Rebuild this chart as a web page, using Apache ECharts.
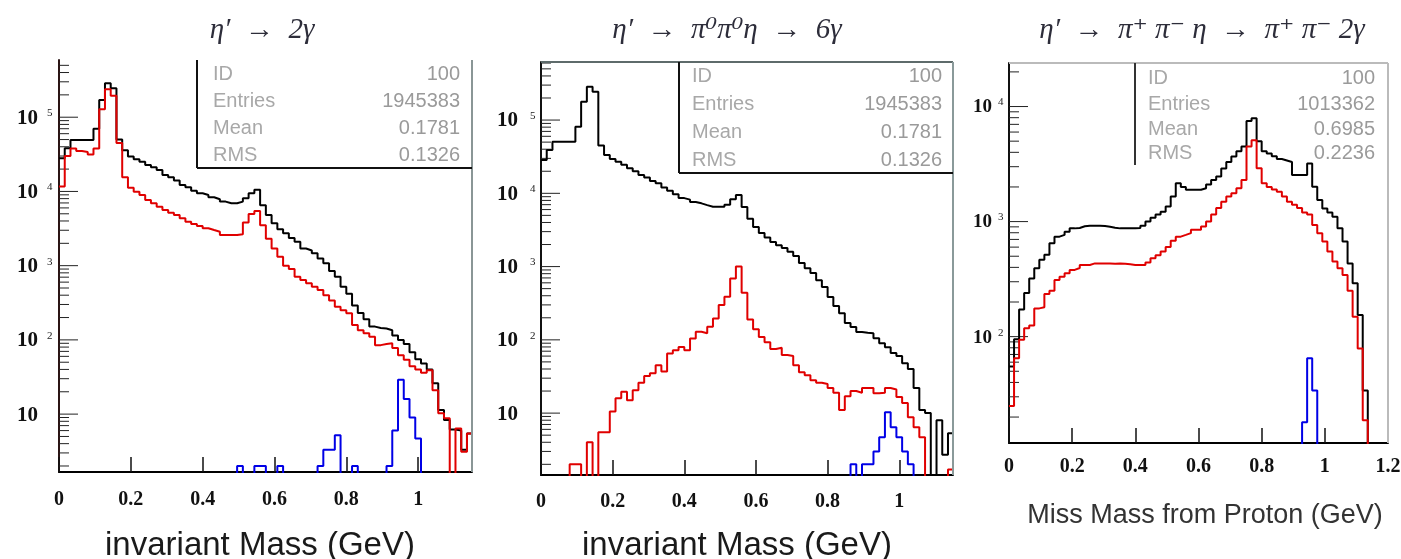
<!DOCTYPE html>
<html>
<head>
<meta charset="utf-8">
<title>η′ decay spectra</title>
<script src="https://cdn.jsdelivr.net/npm/echarts@6.0.0/dist/echarts.min.js"></script>
<style>
html, body { margin: 0; padding: 0; background: #ffffff; }
#chart { width: 1401px; height: 559px; }
</style>
</head>
<body>
<div id="chart"></div>
<script>
// Histogram bin width in GeV; every array below holds bin contents starting at 0 GeV.
const BIN_WIDTH = 0.016;

// η′ → 2γ : two-photon invariant mass
const P1_BLACK = [
  28000, 38200, 49400, 49400, 49400, 49400, 70000, 171000, 287000, 246000,
  50000, 36000, 29500, 27200, 25100, 22700, 21200, 19500, 16700, 15500,
  14000, 12200, 11400, 10200, 9460, 8970, 8350, 7850, 7300, 6920,
  6920, 7300, 8100, 9460, 10500, 6500, 4800, 3720, 3100, 2730,
  2350, 2100, 1700, 1600, 1470, 1250, 1080, 850, 711, 520,
  420, 290, 230, 190, 151, 145, 142, 135, 115, 100,
  88, 68, 55, 48, 40, 26, 11.4, 8.3, 6.2, 6,
  3.3, 5.5
];
const P1_RED = [
  11700, 30000, 38000, 35000, 34000, 31500, 38000, 128000, 239000, 194000,
  45000, 15500, 11200, 9900, 8970, 7680, 6920, 6240, 5630, 5170,
  4820, 4360, 3920, 3650, 3430, 3190, 3020, 2870, 2590, 2580,
  2580, 2650, 3820, 4980, 5460, 3500, 2300, 1700, 1320, 1000,
  900, 711, 640, 580, 520, 470, 400, 340, 280, 250,
  228, 159, 135, 123, 110, 85, 88, 90, 78, 62,
  54, 44, 40, 36, 39, 21, 10.3, 8.8, 0, 6.4,
  3.1, 5.5
];
const P1_BLUE = [
  0, 0, 0, 0, 0, 0, 0, 0, 0, 0,
  0, 0, 0, 0, 0, 0, 0, 0, 0, 0,
  0, 0, 0, 0, 0, 0, 0, 0, 0, 0,
  0, 2, 0, 0, 2, 2, 0, 0, 2, 0,
  0, 0, 0, 0, 0, 2, 3.3, 3.3, 5.2, 0,
  0, 2, 0, 0, 0, 0, 0, 2, 6, 29,
  16, 9, 4.7, 0, 0, 0, 0, 0, 0, 0,
  0, 0
];

// η′ → π0π0η → 6γ : six-photon invariant mass
const P2_BLACK = [
  28500, 38900, 50600, 50600, 50600, 50600, 81200, 178000, 285000, 243000,
  45000, 33300, 29500, 27000, 24500, 22000, 20000, 17800, 16500, 14700,
  13700, 12000, 10800, 9700, 8600, 8200, 7600, 7300, 6900, 6560,
  6560, 6560, 7000, 8300, 9460, 6500, 4500, 3470, 2870, 2500,
  2160, 1950, 1790, 1600, 1400, 1120, 950, 815, 650, 525,
  384, 290, 230, 170, 150, 128, 125, 123, 105, 90,
  79, 66, 60, 48, 40, 22, 11, 10, 0, 8,
  2.7, 5.3
];
const P2_RED = [
  0, 0, 0, 0, 0, 2, 2, 0, 4, 0,
  5.5, 5.5, 10.5, 16, 19.5, 15, 20.5, 26, 32, 35,
  45, 37, 65, 72, 80, 72, 104, 129, 123, 151,
  195, 298, 388, 690, 1000, 440, 190, 140, 109, 93,
  75, 78, 62, 60, 45, 36, 33, 28, 26, 25,
  22, 19, 11, 17, 20, 19, 22, 22, 18.7, 19,
  22, 21, 16.6, 13.7, 8.8, 6.4, 4.7, 0, 0, 0,
  0, 1.7
];
const P2_BLUE = [
  0, 0, 0, 0, 0, 0, 0, 0, 0, 0,
  0, 0, 0, 0, 0, 0, 0, 0, 0, 0,
  0, 0, 0, 0, 0, 0, 0, 0, 0, 0,
  0, 0, 0, 0, 0, 0, 0, 0, 0, 0,
  0, 0, 0, 0, 0, 0, 0, 0, 0, 0,
  0, 0, 0, 0, 2, 0, 2, 2, 3, 4.7,
  10.3, 6.4, 4.7, 3, 2, 0, 0, 0, 0, 0,
  0, 0
];

// η′ → π+π−η → π+π−2γ : missing mass recoiling against the proton
const P3_BLACK = [
  55, 95, 172, 240, 320, 393, 465, 514, 647, 740,
  766, 818, 873, 880, 910, 922, 922, 922, 915, 900,
  885, 873, 873, 873, 875, 880, 922, 1000, 1080, 1150,
  1220, 1350, 1650, 2150, 2000, 1890, 1890, 1890, 1950, 2100,
  2300, 2460, 2900, 3300, 3670, 4080, 4490, 7500, 7900, 5000,
  4080, 3900, 3700, 3500, 3400, 3300, 2540, 2540, 2540, 3200,
  2010, 1540, 1300, 1200, 1100, 873, 670, 433, 291, 154,
  34, 0, 0, 0, 0
];
const P3_RED = [
  25, 65, 94, 118, 125, 176, 180, 235, 250, 311,
  331, 355, 380, 395, 420, 420, 433, 433, 433, 433,
  430, 433, 430, 425, 420, 420, 420, 440, 480, 510,
  550, 600, 680, 740, 766, 793, 848, 850, 905, 1000,
  1150, 1310, 1490, 1650, 1760, 1950, 2300, 4490, 5100, 2910,
  2150, 2000, 1900, 1820, 1650, 1490, 1400, 1310, 1200, 1150,
  935, 793, 670, 550, 449, 393, 344, 250, 149, 79,
  18.8, 0, 0, 0, 0
];
const P3_BLUE = [
  0, 0, 0, 0, 0, 0, 0, 0, 0, 0,
  0, 0, 0, 0, 0, 0, 0, 0, 0, 0,
  0, 0, 0, 0, 0, 0, 0, 0, 0, 0,
  0, 0, 0, 0, 0, 0, 0, 0, 0, 0,
  0, 0, 0, 0, 0, 0, 0, 0, 0, 0,
  0, 0, 0, 0, 0, 0, 0, 0, 18, 65,
  34, 0, 0, 0, 0, 0, 0, 0, 0, 0,
  0, 0, 0, 0, 0
];

// Axis ticks and labels
const X_TICK_STEP = 0.2;
const P1_Y_DECADES = [10, 100, 1000, 10000, 100000];
const P2_Y_DECADES = [10, 100, 1000, 10000, 100000];
const P3_Y_DECADES = [100, 1000, 10000];

// Texts
const TITLES = ['η′  →  2γ', 'η′  →  π⁰π⁰η  →  6γ', 'η′  →  π⁺ π⁻ η  →  π⁺ π⁻ 2γ'];
const X_TITLES = ['invariant Mass (GeV)', 'invariant Mass (GeV)', 'Miss Mass from Proton (GeV)'];
const STAT_NAMES = ['ID', 'Entries', 'Mean', 'RMS'];
const P1_STATS = ['100', '1945383', '0.1781', '0.1326'];
const P2_STATS = ['100', '1945383', '0.1781', '0.1326'];
const P3_STATS = ['100', '1013362', '0.6985', '0.2236'];

const HIST_COLORS = ['#000000', '#e00000', '#0000e6'];
const SERIF = '"Liberation Serif", "DejaVu Serif", serif';
const SANS = '"Liberation Sans", Arial, sans-serif';

// Panel layout and styling
const PANELS = [
  {
    left: 59, top: 60, width: 413, height: 412, xMax: 1.15, yMin: 1.66, yMax: 5.9e5,
    hists: [P1_BLACK, P1_RED, P1_BLUE], decades: P1_Y_DECADES,
    title: TITLES[0], titleX: 262, xTitle: X_TITLES[0], xTitleX: 260, xTitleY: 546, xTitleSize: 33, xTitleColor: '#1a1a1a',
    xLabelMargin: 18, yAxisColor: '#2b1414', labelGap: 21, supGap: 12, labelSize: 21,
    stats: P1_STATS, boxX: 197, boxBottom: 168, statLabelX: 213, statValueX: 460, statRows: [74, 101, 128, 155],
    frameTop: null, frameRight: '#8a9696', boxColor: '#111111'
  },
  {
    left: 541, top: 62, width: 412, height: 413, xMax: 1.15, yMin: 1.43, yMax: 6.2e5,
    hists: [P2_BLACK, P2_RED, P2_BLUE], decades: P2_Y_DECADES,
    title: TITLES[1], titleX: 727, xTitle: X_TITLES[1], xTitleX: 737, xTitleY: 546, xTitleSize: 33, xTitleColor: '#1a1a1a',
    xLabelMargin: 17, yAxisColor: '#111111', labelGap: 23, supGap: 11, labelSize: 21,
    stats: P2_STATS, boxX: 679, boxBottom: 173, statLabelX: 692, statValueX: 942, statRows: [76, 104, 132, 160],
    frameTop: '#5e6b6b', frameRight: '#8a9a9a', boxColor: '#111111'
  },
  {
    left: 1009, top: 63, width: 379, height: 380, xMax: 1.2, yMin: 11.9, yMax: 23900,
    hists: [P3_BLACK, P3_RED, P3_BLUE], decades: P3_Y_DECADES,
    title: TITLES[2], titleX: 1202, xTitle: X_TITLES[2], xTitleX: 1205, xTitleY: 516, xTitleSize: 27, xTitleColor: '#333333',
    xLabelMargin: 14, yAxisColor: '#111111', labelGap: 17, supGap: 11, labelSize: 19,
    stats: P3_STATS, boxX: 1135, boxBottom: null, statLabelX: 1148, statValueX: 1375, statRows: [78, 104, 129, 153],
    frameTop: '#bbbbbb', frameRight: '#bbbbbb', boxColor: '#333333'
  }
];

// Empty bins are pushed far below the log axis so the outline drops out of the frame.
const EMPTY_BIN = 1e-3;
function histogramPoints(values) {
  const pts = values.map((v, i) => [+(i * BIN_WIDTH).toFixed(4), v > 0 ? v : EMPTY_BIN]);
  const last = values[values.length - 1];
  pts.push([+(values.length * BIN_WIDTH).toFixed(4), last > 0 ? last : EMPTY_BIN]);
  return pts;
}

// Log-axis tick values: decades plus 2..9 sub-divisions inside the axis range.
function logTicks(p) {
  const out = [];
  const e0 = Math.floor(Math.log10(p.yMin));
  const e1 = Math.ceil(Math.log10(p.yMax));
  for (let e = e0; e <= e1; e++) {
    const d = Math.pow(10, e);
    for (let m = 1; m <= 9; m++) {
      const v = m * d;
      if (v < p.yMin || v > p.yMax) continue;
      out.push([0, v, p.decades.indexOf(v) >= 0 ? 1 : 0]);
    }
  }
  return out;
}

function tickRenderer(p) {
  return function (params, api) {
    const v = api.value(1);
    const major = api.value(2) === 1;
    const pt = api.coord([0, v]);
    const children = [{
      type: 'line',
      shape: { x1: pt[0], y1: pt[1], x2: pt[0] + (major ? 19 : 10), y2: pt[1] },
      style: { stroke: '#222222', lineWidth: 1 }
    }];
    if (major) {
      const exp = Math.round(Math.log10(v));
      children.push({
        type: 'text', x: pt[0] - p.labelGap, y: pt[1] + 1,
        style: { text: '10', fill: '#111111', fontSize: p.labelSize, fontWeight: 'bold', fontFamily: SERIF, align: 'right', verticalAlign: 'middle' }
      });
      if (exp > 1) {
        children.push({
          type: 'text', x: pt[0] - p.supGap, y: pt[1] - 4,
          style: { text: String(exp), fill: '#222222', fontSize: 11, fontFamily: SERIF, align: 'left', verticalAlign: 'middle' }
        });
      }
    }
    return { type: 'group', children: children };
  };
}

const grids = [], xAxes = [], yAxes = [], series = [], graphics = [];

PANELS.forEach(function (p, i) {
  const right = p.left + p.width;
  const bottom = p.top + p.height;

  grids.push({ left: p.left, top: p.top, width: p.width, height: p.height, show: false, containLabel: false, outerBoundsMode: 'none' });

  xAxes.push({
    gridIndex: i, type: 'value', min: 0, max: p.xMax, interval: X_TICK_STEP,
    axisLine: { show: true, onZero: false, lineStyle: { color: '#000000', width: 2 } },
    axisTick: { show: true, inside: true, length: 15, lineStyle: { color: '#111111', width: 1.5 } },
    axisLabel: {
      show: true, margin: p.xLabelMargin, color: '#111111', fontFamily: SERIF, fontWeight: 'bold', fontSize: 20,
      showMinLabel: true, showMaxLabel: true,
      formatter: function (v) {
        const k = v / X_TICK_STEP;
        if (Math.abs(k - Math.round(k)) > 1e-6) return '';
        return String(Math.round(v * 10) / 10);
      }
    },
    splitLine: { show: false }
  });

  yAxes.push({
    gridIndex: i, type: 'log', logBase: 10, min: p.yMin, max: p.yMax,
    axisLine: { show: true, onZero: false, lineStyle: { color: p.yAxisColor, width: 2 } },
    axisTick: { show: false }, axisLabel: { show: false },
    splitLine: { show: false }, minorTick: { show: false }, minorSplitLine: { show: false }
  });

  series.push({
    type: 'custom', xAxisIndex: i, yAxisIndex: i, clip: false, silent: true, z: 2,
    data: logTicks(p), encode: { x: 0, y: 1 },
    renderItem: tickRenderer(p)
  });

  p.hists.forEach(function (vals, j) {
    series.push({
      type: 'line', xAxisIndex: i, yAxisIndex: i, data: histogramPoints(vals),
      step: 'end', symbol: 'none', showSymbol: false, clip: true, silent: true, z: 3 + j,
      lineStyle: { color: HIST_COLORS[j], width: 2 }
    });
  });

  // frame edges
  if (p.frameTop) {
    graphics.push({ type: 'line', z: 10, shape: { x1: p.left, y1: p.top, x2: right, y2: p.top }, style: { stroke: p.frameTop, lineWidth: 2 } });
  }
  graphics.push({ type: 'line', z: 10, shape: { x1: right, y1: p.top, x2: right, y2: bottom }, style: { stroke: p.frameRight, lineWidth: 2 } });

  // statistics box
  const boxBottom = p.boxBottom != null ? p.boxBottom : p.statRows[3] + 12;
  graphics.push({ type: 'line', z: 10, shape: { x1: p.boxX, y1: p.top, x2: p.boxX, y2: boxBottom }, style: { stroke: p.boxColor, lineWidth: 2 } });
  if (p.boxBottom != null) {
    graphics.push({ type: 'line', z: 10, shape: { x1: p.boxX, y1: p.boxBottom, x2: right, y2: p.boxBottom }, style: { stroke: p.boxColor, lineWidth: 2 } });
  }
  STAT_NAMES.forEach(function (name, r) {
    graphics.push({ type: 'text', z: 11, x: p.statLabelX, y: p.statRows[r],
      style: { text: name, fill: '#a8a8a8', fontSize: 20, fontFamily: SANS, align: 'left', verticalAlign: 'middle' } });
    graphics.push({ type: 'text', z: 11, x: p.statValueX, y: p.statRows[r],
      style: { text: p.stats[r], fill: '#9a9a9a', fontSize: 20, fontFamily: SANS, align: 'right', verticalAlign: 'middle' } });
  });

  // panel title and axis title
  graphics.push({ type: 'text', z: 11, x: p.titleX, y: 30,
    style: { text: p.title, fill: '#2d2d3a', fontSize: 29, fontStyle: 'italic', fontFamily: SERIF, align: 'center', verticalAlign: 'middle' } });
  graphics.push({ type: 'text', z: 11, x: p.xTitleX, y: p.xTitleY,
    style: { text: p.xTitle, fill: p.xTitleColor, fontSize: p.xTitleSize, fontFamily: SANS, align: 'center', verticalAlign: 'middle' } });
});

const chart = echarts.init(document.getElementById('chart'), null, { renderer: 'canvas', width: 1401, height: 559 });
chart.setOption({
  animation: false,
  backgroundColor: '#ffffff',
  grid: grids,
  xAxis: xAxes,
  yAxis: yAxes,
  series: series,
  graphic: { elements: graphics }
});
</script>
</body>
</html>
